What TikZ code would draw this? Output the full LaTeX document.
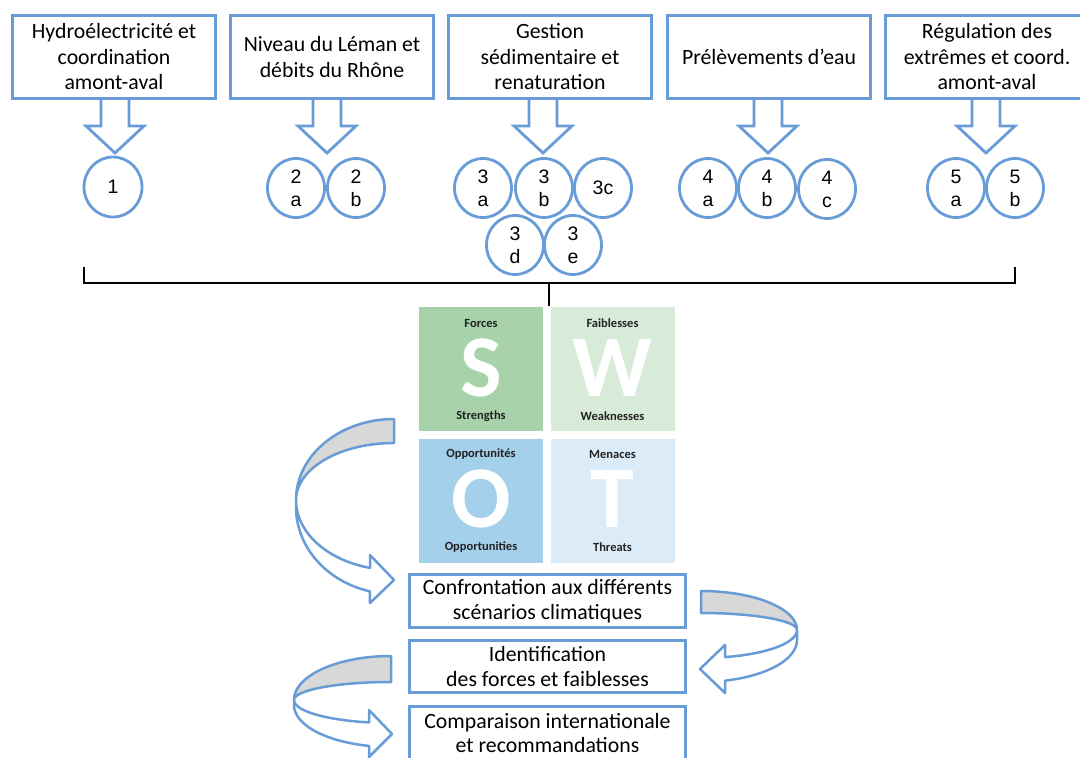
\documentclass[tikz,border=0pt]{standalone}
\usepackage{fontspec}
\usetikzlibrary{shapes.geometric}
\setmainfont{Carlito}
\newfontfamily\arialf{Liberation Sans}
\definecolor{lineblue}{RGB}{104,156,214}
\definecolor{ribgray}{RGB}{216,216,216}
\definecolor{sgreen}{RGB}{168,211,170}
\definecolor{wgreen}{RGB}{216,234,216}
\definecolor{oblue}{RGB}{164,208,236}
\definecolor{tblue}{RGB}{219,236,248}
\definecolor{swotink}{RGB}{35,35,35}
\tikzset{
  downblk/.pic={\draw[lineblue, line width=2.8pt, line join=miter]
    (-14,0) -- (-14,28) -- (-29,28) -- (0,55) -- (29,28) -- (14,28) -- (14,0);}
}
\begin{document}
\begin{tikzpicture}[x=1pt,y=-1pt,
  topbox/.style={draw=lineblue, line width=2.8pt, fill=white, minimum width=203pt,
    minimum height=83pt, align=center, inner sep=0pt, font=\fontsize{21.8}{25.5}\selectfont},
  stagebox/.style={draw=lineblue, line width=2.8pt, fill=white, minimum width=276pt,
    align=center, inner sep=0pt, font=\fontsize{21.8}{24.5}\selectfont},
  bubble/.style={draw=lineblue, line width=2.8pt, ellipse, minimum width=57pt, minimum height=59pt,
    inner sep=0pt, align=center, font=\arialf\fontsize{19.5}{23}\selectfont},
  quad/.style={minimum size=124pt, inner sep=0pt},
  bigletter/.style={text=white, font=\bfseries\fontsize{88}{88}\selectfont, inner sep=0pt,
    text height=57pt, text depth=0pt},
  swotlabel/.style={text=swotink, font=\bfseries\fontsize{12.5}{14}\selectfont, inner sep=0pt},
  rib/.style={draw=lineblue, line width=2.5pt, line join=round},
  bracket/.style={draw=black, line width=2.6pt}
]
\useasboundingbox (0,0) rectangle (1080,758);
\clip (0,0) rectangle (1080,758);

% themes
\node[topbox] (b1) at (114,57) {Hydroélectricité et\\coordination\\amont-aval};
\node[topbox] (b2) at (332,57) {Niveau du Léman et\\débits du Rhône};
\node[topbox] (b3) at (550,57) {Gestion\\sédimentaire et\\renaturation};
\node[topbox] (b4) at (769,57) {Prélèvements d’eau};
\node[topbox] (b5) at (987,57) {Régulation des\\extrêmes et coord.\\amont-aval};

% block arrows under each theme
\pic at (115,98) {downblk};
\pic at (327,98) {downblk};
\pic at (543,98) {downblk};
\pic at (768,98) {downblk};
\pic at (986,98) {downblk};

% sub-themes
\node[bubble, minimum width=58pt, minimum height=60pt] (c1) at (113,187) {1};
\node[bubble] (c2a) at (296,188) {2\\a};
\node[bubble] (c2b) at (356,188) {2\\b};
\node[bubble] (c3a) at (483,188) {3\\a};
\node[bubble] (c3b) at (544,188) {3\\b};
\node[bubble] (c3c) at (603,188) {3c};
\node[bubble] (c3d) at (515,245) {3\\d};
\node[bubble] (c3e) at (573,245) {3\\e};
\node[bubble] (c4a) at (708,188) {4\\a};
\node[bubble] (c4b) at (767,188) {4\\b};
\node[bubble] (c4c) at (827,189) {4\\c};
\node[bubble] (c5a) at (956,188) {5\\a};
\node[bubble] (c5b) at (1015,188) {5\\b};

% bracket gathering all sub-themes
\coordinate (brL) at (84,267);
\coordinate (brR) at (1015,267);
\coordinate (brM) at (549,283);
\coordinate (brS) at (549,306);
\draw[bracket] (brL) -- (brL |- brM) -- (brR |- brM) -- (brR);
\draw[bracket] (brM) -- (brS);

% SWOT matrix
\node[quad, fill=sgreen] (qS) at (481,369) {};
\node[quad, fill=wgreen] (qW) at (612.5,369) {};
\node[quad, fill=oblue] (qO) at (481,500.5) {};
\node[quad, fill=tblue] (qT) at (612.5,500.5) {};
\node[bigletter] (lS) at (481,368) {S};
\node[bigletter] (lW) at (612.5,368) {W};
\node[bigletter] (lO) at (481,499) {O};
\node[bigletter] (lT) at (612.5,499) {T};
\node[swotlabel] (tS1) at (481,323) {Forces};
\node[swotlabel] (tS2) at (481,416) {Strengths};
\node[swotlabel] (tW1) at (612.5,323) {Faiblesses};
\node[swotlabel] (tW2) at (612.5,416) {Weaknesses};
\node[swotlabel] (tO1) at (481,454) {Opportunités};
\node[swotlabel] (tO2) at (481,547) {Opportunities};
\node[swotlabel] (tT1) at (612.5,454) {Menaces};
\node[swotlabel] (tT2) at (612.5,547) {Threats};

% analysis stages
\node[stagebox, minimum height=53pt] (s1) at (547.5,601) {Confrontation aux différents\\scénarios climatiques};
\node[stagebox, minimum height=52pt] (s2) at (547.5,666.5) {Identification\\des forces et faiblesses};
\node[stagebox, minimum height=53pt] (s3) at (547.5,733) {Comparaison internationale\\et recommandations};

% curved ribbon arrow: matrix -> first stage
\draw[rib, fill=ribgray] (394,419) -- (394,443)
  -- plot[domain=270:180, samples=40] ({394+98*cos(\x)},{500+57*sin(\x)})
  -- plot[domain=180:270, samples=40] ({394+98*cos(\x)},{500+81*sin(\x)}) -- cycle;
\draw[rib, fill=white] (296,500)
  -- plot[domain=180:104.2, samples=40] ({394+98*cos(\x)},{507+87*sin(\x)})
  -- (370,603) -- (394,580) -- (370,555) -- (370,568)
  -- plot[domain=104.2:180, samples=40] ({394+98*cos(\x)},{500+70*sin(\x)}) -- cycle;

% curved ribbon arrow: first stage -> second stage
\draw[rib, fill=ribgray] (701,591)
  -- plot[domain=270:360, samples=40] ({701+96*cos(\x)},{630+39*sin(\x)})
  -- plot[domain=360:270, samples=40] ({701+96*cos(\x)},{630+17*sin(\x)}) -- cycle;
\draw[rib, fill=white] (797,630)
  -- plot[domain=0:75.5, samples=40] ({701+96*cos(\x)},{640+42*sin(\x)})
  -- (725,693) -- (700,669) -- (725,645) -- (725,657)
  -- plot[domain=75.5:0, samples=40] ({701+96*cos(\x)},{630+28*sin(\x)}) -- cycle;

% curved ribbon arrow: second stage -> third stage
\draw[rib, fill=ribgray] (391,656) -- (391,682)
  -- plot[domain=270:180, samples=40] ({391+97*cos(\x)},{700+18*sin(\x)})
  -- plot[domain=180:270, samples=40] ({391+97*cos(\x)},{700+44*sin(\x)}) -- cycle;
\draw[rib, fill=white] (294,700)
  -- plot[domain=180:103.1, samples=40] ({391+97*cos(\x)},{705+42*sin(\x)})
  -- (369,757) -- (392,734) -- (369,710) -- (369,722)
  -- plot[domain=103.1:180, samples=40] ({391+97*cos(\x)},{700+23*sin(\x)}) -- cycle;
\end{tikzpicture}
\end{document}
